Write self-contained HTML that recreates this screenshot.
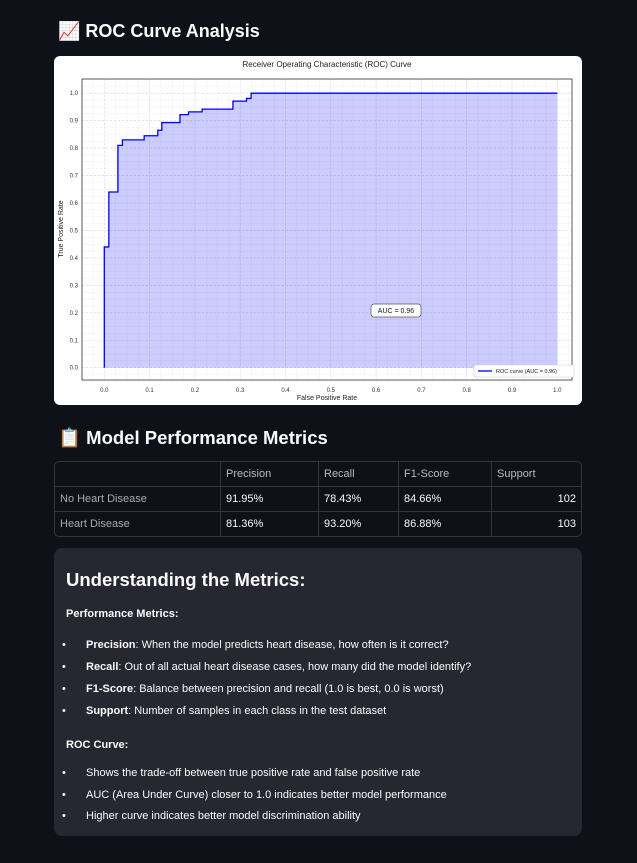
<!DOCTYPE html>
<html><head><meta charset="utf-8"><style>
body{margin:0;background:#0e1117;width:637px;height:863px;overflow:hidden;font-family:"Liberation Sans",sans-serif;color:#fafafa;position:relative}
.h{position:absolute;left:58px;font-weight:bold;font-size:18.5px;margin:0}
.card{position:absolute;left:54px;top:56px;width:528px;height:349px;background:#fff;border-radius:6px}
table{position:absolute;left:54px;top:461px;width:528px;border-collapse:separate;border-spacing:0;border:1px solid #333640;border-radius:5px;font-size:11px}
td{height:24px;border-right:1px solid #333640;border-top:1px solid #333640;padding:0 5px;color:#fafafa}
tr:first-child td{border-top:none;color:#bbb}
td:last-child{border-right:none}
td.l{color:#aaa}
.box{position:absolute;left:54px;top:548px;width:528px;height:288px;background:#262730;border-radius:8px}
.box h3{position:absolute;left:12px;top:21px;margin:0;font-size:18.5px}
.box p{position:absolute;left:12px;margin:0;font-size:11px;font-weight:bold}
.box li{position:absolute;left:32px;font-size:11px;list-style:none}
.box li:before{content:"•";position:absolute;left:-24px}
</style></head><body>
<h2 class="h" style="top:21px;font-size:18px">📈 ROC Curve Analysis</h2>
<div class="card">
<svg id="chart" width="528" height="349"></svg>
</div>
<h2 class="h" style="top:427px">📋 Model Performance Metrics</h2>
<table>
<tr><td style="width:155px"></td><td style="width:87px">Precision</td><td style="width:69px">Recall</td><td style="width:82px">F1-Score</td><td>Support</td></tr>
<tr><td class="l">No Heart Disease</td><td>91.95%</td><td>78.43%</td><td>84.66%</td><td style="text-align:right">102</td></tr>
<tr><td class="l">Heart Disease</td><td>81.36%</td><td>93.20%</td><td>86.88%</td><td style="text-align:right">103</td></tr>
</table>
<div class="box">
<h3>Understanding the Metrics:</h3>
<p style="top:60px">Performance Metrics:</p>
<ul>
<li style="top:91px"><b>Precision</b>: When the model predicts heart disease, how often is it correct?</li>
<li style="top:113px"><b>Recall</b>: Out of all actual heart disease cases, how many did the model identify?</li>
<li style="top:135px"><b>F1-Score</b>: Balance between precision and recall (1.0 is best, 0.0 is worst)</li>
<li style="top:157px"><b>Support</b>: Number of samples in each class in the test dataset</li>
</ul>
<p style="top:191px">ROC Curve:</p>
<ul>
<li style="top:219px">Shows the trade-off between true positive rate and false positive rate</li>
<li style="top:241px">AUC (Area Under Curve) closer to 1.0 indicates better model performance</li>
<li style="top:262px">Higher curve indicates better model discrimination ability</li>
</ul>
</div>
<script>
const fpr=[0,0,0.01,0.01,0.03,0.03,0.04,0.04,0.088,0.088,0.118,0.118,0.127,0.127,0.167,0.167,0.186,0.186,0.216,0.216,0.284,0.284,0.314,0.314,0.324,0.324,1];
const tpr=[0,0.44,0.44,0.64,0.64,0.81,0.81,0.83,0.83,0.845,0.845,0.865,0.865,0.893,0.893,0.922,0.922,0.932,0.932,0.942,0.942,0.971,0.971,0.981,0.981,1,1];
const ticks=[0,0.1,0.2,0.3,0.4,0.5,0.6,0.7,0.8,0.9,1.0];
const aucLabel="AUC = 0.96";
const NS="http://www.w3.org/2000/svg",svg=document.getElementById('chart');
const X=v=>50.3+v*453,Y=v=>311.7-v*274.5;
function el(t,a,p){const e=document.createElementNS(NS,t);for(const k in a)e.setAttribute(k,a[k]);(p||svg).appendChild(e);return e;}
const L=28,T=23,R=518,B=324;
for(let i=-0.05;i<=1.051;i+=0.025){const g=el('line',{x1:X(i),x2:X(i),y1:T,y2:B,stroke:'#f0f0f0','stroke-width':0.5});
const h=el('line',{x1:L,x2:R,y1:Y(i),y2:Y(i),stroke:'#f0f0f0','stroke-width':0.5});}
ticks.forEach(t=>{el('line',{x1:X(t),x2:X(t),y1:T,y2:B,stroke:'#d8d8d8','stroke-width':0.6,'stroke-dasharray':'2,2'});el('line',{x1:L,x2:R,y1:Y(t),y2:Y(t),stroke:'#d8d8d8','stroke-width':0.6,'stroke-dasharray':'2,2'});
const a=el('text',{x:X(t),y:B+12,'font-size':6,'text-anchor':'middle',fill:'#333'});a.textContent=t.toFixed(1);
const b=el('text',{x:L-4,y:Y(t)+2,'font-size':6,'text-anchor':'end',fill:'#333'});b.textContent=t.toFixed(1);});
let d=fpr.map((f,i)=>(i?'L':'M')+X(f)+','+Y(tpr[i])).join('');
const area=el('path',{d:d+'L'+X(1)+','+Y(0)+'Z',fill:'#0000ff','fill-opacity':0.2});
const line=el('path',{d:d,fill:'none',stroke:'#0000ff','stroke-width':1.3});
const ax=el('rect',{x:L,y:T,width:R-L,height:B-T,fill:'none',stroke:'#333','stroke-width':0.8});
const tt=el('text',{x:(L+R)/2,y:11,'font-size':8,'text-anchor':'middle',fill:'#222'});tt.textContent='Receiver Operating Characteristic (ROC) Curve';
const xt=el('text',{x:(L+R)/2,y:344,'font-size':7,'text-anchor':'middle',fill:'#222'});xt.textContent='False Positive Rate';
const yt=el('text',{x:0,y:0,'font-size':7,'text-anchor':'middle',fill:'#222',transform:'translate(9,173) rotate(-90)'});yt.textContent='True Positive Rate';
const ab=el('rect',{x:317,y:248,width:50,height:13,rx:3,fill:'#fff',stroke:'#555','stroke-width':0.7});
const at=el('text',{x:342,y:257,'font-size':7,'text-anchor':'middle',fill:'#222'});at.textContent=aucLabel;
const lb=el('rect',{x:420,y:309,width:100,height:12,rx:2,fill:'#fff',stroke:'#ccc','stroke-width':0.6});
el('line',{x1:424,x2:438,y1:315,y2:315,stroke:'#0000ff','stroke-width':1.3});
const lt=el('text',{x:442,y:317,'font-size':5.5,fill:'#222'});lt.textContent='ROC curve (AUC = 0.96)';
</script>
</body></html>
